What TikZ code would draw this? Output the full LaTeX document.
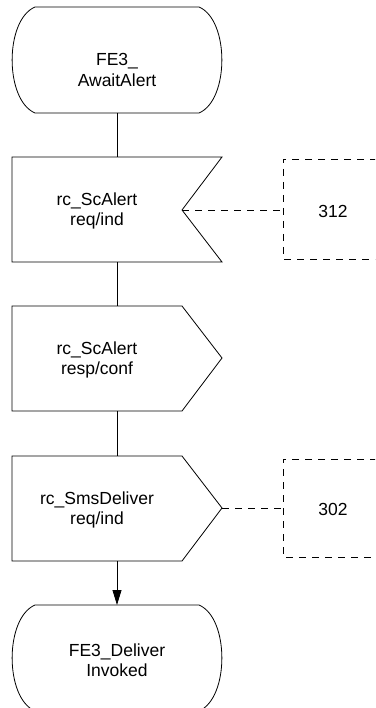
\documentclass[tikz,border=0pt]{standalone}
\usepackage{fontspec}
\setmainfont{Liberation Sans}
\usetikzlibrary{arrows.meta}
\begin{document}
\begin{tikzpicture}[x=1pt,y=-1pt,
  shp/.style={draw=black, line width=0.8pt},
  dsh/.style={draw=black, line width=0.8pt, dash pattern=on 7pt off 6pt},
  lbl/.style={font=\fontsize{17.5}{20.5}\selectfont, align=center, inner sep=0pt},
  link/.style={draw=black, line width=0.8pt},
  arr/.style={link, -{Triangle[length=15pt,width=9pt]}}]
\clip (0,0) rectangle (375,708);
% state 1
\draw[shp] (35,7) -- (199,7) .. controls (229.5,20) and (229.5,100) .. (199,113)
  -- (35,113) .. controls (4.5,100) and (4.5,20) .. (35,7);
\node[lbl] (s1) at (117,70) {FE3\_\\AwaitAlert};
\coordinate (s1b) at (117,113);
% input signal
\draw[shp] (12,157) -- (222,157) -- (182,210) -- (222,262) -- (12,262) -- cycle;
\node[lbl] (in1) at (97,211) {rc\_ScAlert\\req/ind};
\coordinate (in1t) at (117,157);
\coordinate (in1b) at (117,262);
\coordinate (in1n) at (182,210);
% output signal 2
\draw[shp] (12,306) -- (182,306) -- (222,358) -- (182,411) -- (12,411) -- cycle;
\node[lbl] (out2) at (97,360) {rc\_ScAlert\\resp/conf};
\coordinate (out2t) at (117,306);
\coordinate (out2b) at (117,411);
% output signal 3
\draw[shp] (12,456) -- (182,456) -- (222,508) -- (182,561) -- (12,561) -- cycle;
\node[lbl] (out3) at (97,510) {rc\_SmsDeliver\\req/ind};
\coordinate (out3t) at (117,456);
\coordinate (out3b) at (117,561);
\coordinate (out3p) at (222,508);
% state 2
\draw[shp] (35,605) -- (199,605) .. controls (229.5,618) and (229.5,698) .. (199,711)
  -- (35,711) .. controls (4.5,698) and (4.5,618) .. (35,605);
\node[lbl] (s2) at (117,660) {FE3\_Deliver\\Invoked};
\coordinate (s2t) at (117,605);
% references
\draw[dsh] (390,159) -- (283,159) -- (283,259) -- (390,259);
\node[lbl] (r312) at (333,211) {312};
\coordinate (r312l) at (283,210);
\draw[dsh] (390,459) -- (283,459) -- (283,557) -- (390,557);
\node[lbl] (r302) at (333,509) {302};
\coordinate (r302l) at (283,508);
% connectors
\draw[link] (s1b) -- (in1t);
\draw[link] (in1b) -- (out2t);
\draw[link] (out2b) -- (out3t);
\draw[arr] (out3b) -- (s2t);
\draw[dsh] (in1n) -- (r312l);
\draw[dsh] (out3p) -- (r302l);
\end{tikzpicture}
\end{document}
